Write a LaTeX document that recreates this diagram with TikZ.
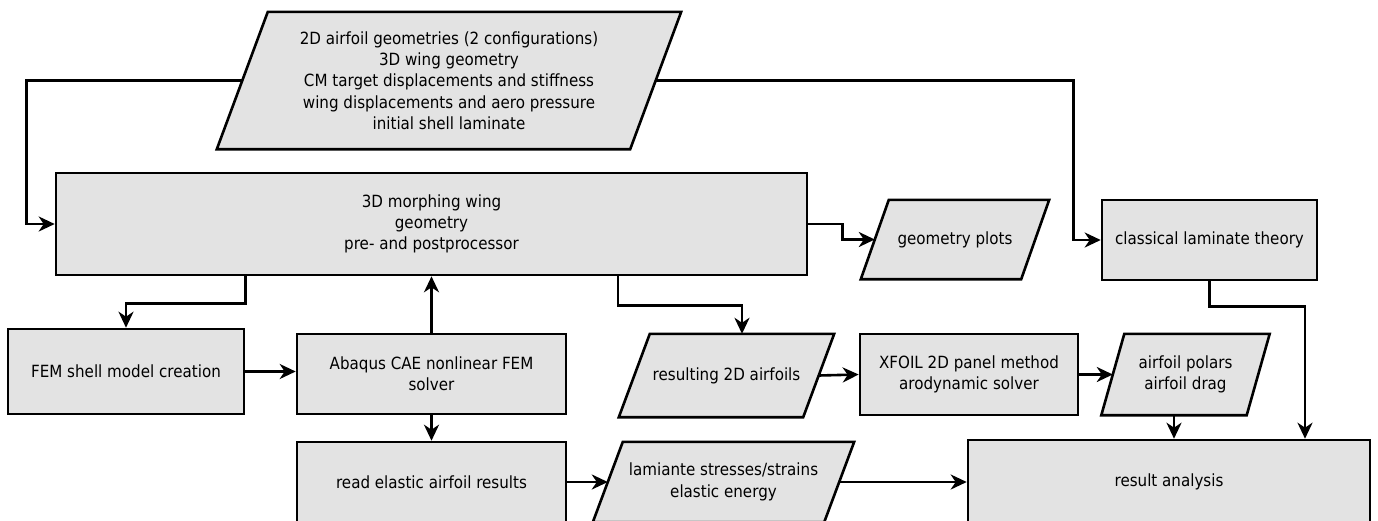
\documentclass[tikz,border=0pt]{standalone}
\usepackage{fontspec}
\setmainfont{DejaVu Sans}[FakeStretch=0.9]
\usetikzlibrary{arrows.meta,backgrounds}
\definecolor{boxfill}{HTML}{E3E3E3}
\tikzset{
  txt/.style={font=\fontsize{16.8}{21.3}\selectfont, align=center},
  box/.style={txt, draw=black, line width=2.6pt, fill=boxfill, inner sep=0pt},
  ptext/.style={txt, inner sep=0pt},
  pshape/.style={draw=black, line width=2.6pt, fill=boxfill},
  arr/.style={line width=2.6pt, -{Stealth[length=16pt,width=15pt,inset=5pt]}},
}
\newcommand\paral[2]{\draw[pshape] ([xshift=#2/2]#1.north west) -- ([xshift=#2/2]#1.north east) -- ([xshift=-#2/2]#1.south east) -- ([xshift=-#2/2]#1.south west) -- cycle;}
\begin{document}
\begin{tikzpicture}[x=1pt,y=-1pt]
\useasboundingbox (0,0) rectangle (1378,520);
% parallelogram text nodes (shape drawn on background)
\node[ptext, minimum width=413, minimum height=137] (inp) at (449,80.5) {2D airfoil geometries (2 configurations)\\3D wing geometry\\CM target displacements and stiffness\\wing displacements and aero pressure\\initial shell laminate};
\node[ptext, minimum width=160, minimum height=79] (geo) at (955,239.5) {geometry plots};
\node[ptext, minimum width=184, minimum height=83] (res2d) at (726.5,375.5) {resulting 2D airfoils};
\node[ptext, minimum width=145, minimum height=81] (polars) at (1185.5,374.5) {airfoil polars\\airfoil drag};
\node[ptext, minimum width=231, minimum height=80] (lam) at (723.5,482) {lamiante stresses/strains\\elastic energy};
\begin{scope}[on background layer]
\paral{inp}{51}
\paral{geo}{28}
\paral{res2d}{31}
\paral{polars}{23}
\paral{lam}{30}
\end{scope}
% rectangles
\node[box, minimum width=751, minimum height=102] (main) at (431.5,224) {3D morphing wing\\geometry\\pre- and postprocessor};
\node[box, minimum width=215, minimum height=80] (clt) at (1209.5,240) {classical laminate theory};
\node[box, minimum width=236, minimum height=85] (fem) at (126,371.5) {FEM shell model creation};
\node[box, minimum width=269, minimum height=80] (abaqus) at (431.5,374) {Abaqus CAE nonlinear FEM\\solver};
\node[box, minimum width=218, minimum height=81] (xfoil) at (969,374.5) {XFOIL 2D panel method\\arodynamic solver};
\node[box, minimum width=269, minimum height=80] (read) at (431.5,482) {read elastic airfoil results};
\node[box, minimum width=402, minimum height=84] (result) at (1169,482) {result analysis};
% connectors
\draw[arr] (inp.west) -| ([xshift=-28]main.west) -- (main.west);
\draw[arr] (inp.east) -| ([xshift=-27]clt.west) -- (clt.west);
\draw[arr] (main.east) -- ++(34,0) |- (geo.west);
\draw[arr] (main.south -| fem.east) -- ++(0,27) -| (fem.north);
\draw[arr] (fem.east) -- (fem.east -| abaqus.west);
\draw[arr] (abaqus.north) -- (abaqus.north |- main.south);
\draw[arr] (abaqus.south) -- (read.north);
\draw[arr] (main.south -| 618,0) -- ++(0,29) -| ([xshift=15.5]res2d.north);
\draw[arr] (res2d.east) -- (xfoil.west);
\draw[arr] (xfoil.east) -- (polars.west);
\draw[arr] ([xshift=-11.5]polars.south) -- ([xshift=-11.5]polars.south |- result.north);
\draw[arr] (clt.south) -- ++(0,25) -| ([xshift=136]result.north);
\draw[arr] (read.east) -- (lam.west);
\draw[arr] (lam.east) -- (result.west);
\end{tikzpicture}
\end{document}
